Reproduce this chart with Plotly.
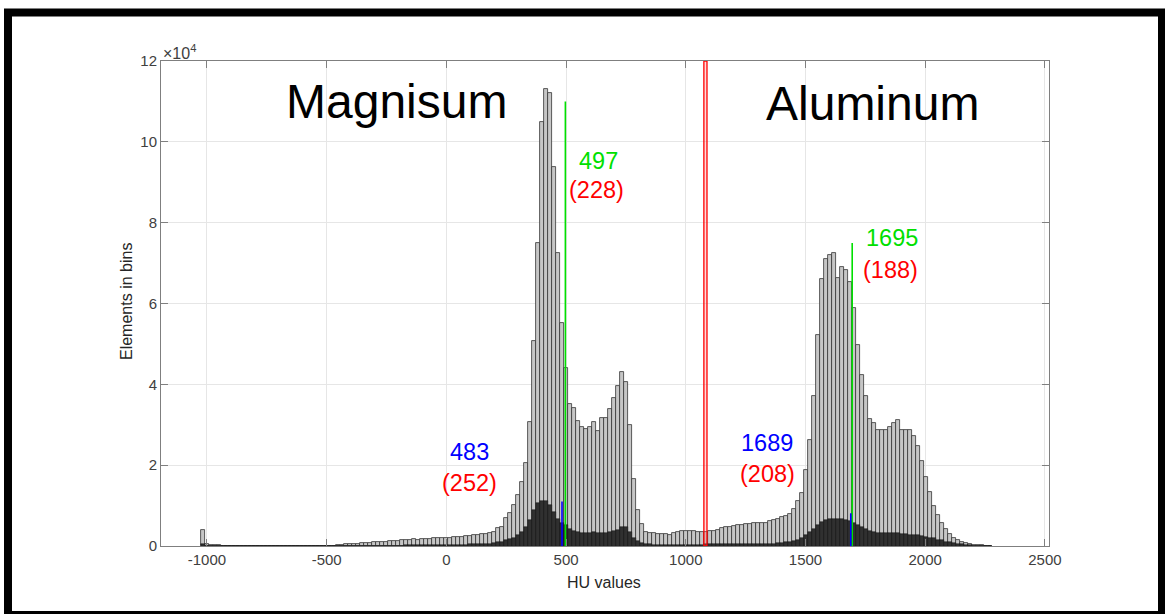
import plotly.graph_objects as go

# ---------------- data (counts in units of 10^4) ----------------
bin_start = -1027.0      # HU, left edge of first bin
bin_width = 16.7         # HU

total_counts_e4 = [
    0.40, 0.06, 0.03, 0.02, 0.02,
    0.01, 0.01, 0.01, 0.01, 0.01,
    0.01, 0.01, 0.01, 0.01, 0.01,
    0.01, 0.01, 0.01, 0.01, 0.01,
    0.00, 0.00, 0.01, 0.00, 0.01,
    0.01, 0.01, 0.00, 0.01, 0.01,
    0.01, 0.01, 0.01, 0.01, 0.02,
    0.03, 0.04, 0.05, 0.05, 0.06,
    0.07, 0.08, 0.08, 0.09, 0.10,
    0.10, 0.11, 0.12, 0.12, 0.13,
    0.14, 0.14, 0.15, 0.17, 0.16,
    0.17, 0.18, 0.18, 0.19, 0.20,
    0.20, 0.21, 0.21, 0.22, 0.22,
    0.23, 0.24, 0.25, 0.26, 0.27,
    0.29, 0.30, 0.31, 0.35, 0.45,
    0.48, 0.69, 0.81, 1.01, 1.26,
    1.59, 2.05, 3.08, 5.06, 7.49,
    10.5, 11.3, 11.2, 9.37, 7.26,
    5.53, 4.40, 3.51, 3.41, 3.09,
    2.94, 2.90, 2.94, 3.06, 2.85,
    3.16, 3.16, 3.38, 3.65, 3.96,
    4.30, 4.05, 3.00, 1.65, 0.89,
    0.54, 0.35, 0.33, 0.31, 0.30,
    0.30, 0.29, 0.27, 0.33, 0.35,
    0.36, 0.36, 0.36, 0.36, 0.35,
    0.34, 0.35, 0.37, 0.38, 0.40,
    0.44, 0.46, 0.48, 0.50, 0.51,
    0.53, 0.54, 0.55, 0.56, 0.56,
    0.57, 0.58, 0.61, 0.64, 0.68,
    0.71, 0.74, 0.80, 0.92, 1.12,
    1.32, 1.88, 2.62, 3.70, 5.22,
    6.60, 7.10, 7.20, 7.26, 6.63,
    6.91, 6.83, 6.54, 5.88, 4.98,
    4.23, 3.70, 3.14, 3.04, 2.87,
    2.88, 2.88, 2.95, 3.05, 3.12,
    2.87, 2.87, 2.86, 2.71, 2.48,
    2.11, 1.70, 1.33, 1.00, 0.76,
    0.58, 0.42, 0.29, 0.20, 0.14,
    0.10, 0.07, 0.05, 0.03, 0.03,
    0.02, 0.01, 0.01,
]

subset_counts_e4 = [
    0.05, 0.01, 0.01, 0.01, 0.01,
    0.01, 0.01, 0.01, 0.01, 0.01,
    0.00, 0.00, 0.00, 0.00, 0.00,
    0.00, 0.00, 0.00, 0.00, 0.00,
    0.00, 0.00, 0.00, 0.00, 0.00,
    0.00, 0.00, 0.00, 0.00, 0.00,
    0.00, 0.00, 0.00, 0.00, 0.01,
    0.01, 0.01, 0.01, 0.01, 0.01,
    0.01, 0.01, 0.01, 0.01, 0.01,
    0.01, 0.01, 0.01, 0.01, 0.01,
    0.01, 0.02, 0.02, 0.02, 0.02,
    0.02, 0.02, 0.02, 0.02, 0.02,
    0.02, 0.03, 0.03, 0.03, 0.03,
    0.03, 0.03, 0.04, 0.04, 0.04,
    0.04, 0.05, 0.06, 0.07, 0.09,
    0.11, 0.14, 0.17, 0.21, 0.27,
    0.35, 0.48, 0.64, 0.89, 1.07,
    1.12, 1.12, 1.01, 0.85, 0.66,
    0.58, 0.52, 0.41, 0.37, 0.34,
    0.33, 0.33, 0.33, 0.35, 0.31,
    0.33, 0.33, 0.34, 0.36, 0.40,
    0.46, 0.46, 0.35, 0.20, 0.12,
    0.08, 0.05, 0.04, 0.03, 0.03,
    0.03, 0.03, 0.03, 0.03, 0.03,
    0.03, 0.03, 0.03, 0.03, 0.03,
    0.03, 0.04, 0.04, 0.04, 0.04,
    0.04, 0.04, 0.04, 0.04, 0.04,
    0.04, 0.05, 0.05, 0.05, 0.05,
    0.05, 0.05, 0.05, 0.06, 0.07,
    0.08, 0.09, 0.10, 0.12, 0.16,
    0.20, 0.27, 0.34, 0.42, 0.52,
    0.60, 0.64, 0.67, 0.68, 0.67,
    0.66, 0.65, 0.63, 0.57, 0.52,
    0.47, 0.42, 0.38, 0.35, 0.33,
    0.32, 0.31, 0.31, 0.31, 0.31,
    0.30, 0.29, 0.28, 0.27, 0.26,
    0.25, 0.23, 0.21, 0.19, 0.16,
    0.14, 0.11, 0.09, 0.07, 0.05,
    0.04, 0.03, 0.02, 0.01, 0.01,
    0.00, 0.00, 0.00,
]

blue_hu = [483, 1689]
blue_top_e4 = [1.10, 0.81]
green_hu = [497, 1695]
green_top_e4 = [11.0, 7.5]
threshold_hu = 1082

blue_labels = ["483", "1689"]
blue_sub_labels = ["(252)", "(208)"]
green_labels = ["497", "1695"]
green_sub_labels = ["(228)", "(188)"]
region_labels = ["Magnisum", "Aluminum"]

x_ticks = [-1000, -500, 0, 500, 1000, 1500, 2000, 2500]
y_ticks = [0, 2, 4, 6, 8, 10, 12]

# ---------------- figure ----------------
centers_total = [bin_start + bin_width * (i + 0.5) for i in range(len(total_counts_e4))]
centers_sub = [bin_start + bin_width * (i + 0.5) for i in range(len(subset_counts_e4))]

FONT = "Liberation Sans, Arial, Helvetica, sans-serif"

fig = go.Figure()
fig.add_trace(go.Bar(
    x=centers_total, y=total_counts_e4, width=bin_width,
    marker=dict(color="#c6c6c6", line=dict(color="#333333", width=0.8)),
    showlegend=False, hoverinfo="skip"))
fig.add_trace(go.Bar(
    x=centers_sub, y=subset_counts_e4, width=bin_width,
    marker=dict(color="#303030", line=dict(color="#111111", width=0.5)),
    showlegend=False, hoverinfo="skip"))

for h, t in zip(green_hu, green_top_e4):
    fig.add_trace(go.Scatter(x=[h, h], y=[0, t], mode="lines",
                             line=dict(color="#00e000", width=1.6),
                             showlegend=False, hoverinfo="skip"))
for h, t in zip(blue_hu, blue_top_e4):
    fig.add_trace(go.Scatter(x=[h, h], y=[0, t], mode="lines",
                             line=dict(color="#0000ff", width=1.6),
                             showlegend=False, hoverinfo="skip"))

# threshold (double red line)
fig.add_shape(type="rect", xref="x", yref="y",
              x0=threshold_hu - 6.5, x1=threshold_hu + 6.5, y0=0, y1=12,
              line=dict(color="#ff0000", width=1.3),
              fillcolor="rgba(255,120,120,0.25)", layer="above")

# outer black frame
fig.add_shape(type="rect", xref="paper", yref="paper",
              x0=(8 - 161) / 888, x1=(1162 - 161) / 888,
              y0=(546 - 615) / 485, y1=(546 - 12.5) / 485,
              line=dict(color="black", width=8), fillcolor="rgba(0,0,0,0)")

ann = []
# region labels
ann.append(dict(x=-210, y=11.0, text=region_labels[0], showarrow=False,
                font=dict(size=48, color="black", family=FONT),
                xanchor="center", yanchor="middle"))
ann.append(dict(x=1779, y=10.95, text=region_labels[1], showarrow=False,
                font=dict(size=48, color="black", family=FONT),
                xanchor="center", yanchor="middle"))
# marker labels
label_pos = [
    (green_labels[0], 637, 9.53, "#00e000"),
    (green_sub_labels[0], 629, 8.81, "#ff0000"),
    (blue_labels[0], 96, 2.33, "#0000ff"),
    (blue_sub_labels[0], 96, 1.55, "#ff0000"),
    (blue_labels[1], 1339, 2.54, "#0000ff"),
    (blue_sub_labels[1], 1342, 1.78, "#ff0000"),
    (green_labels[1], 1862, 7.61, "#00e000"),
    (green_sub_labels[1], 1855, 6.83, "#ff0000"),
]
for txt, x, y, c in label_pos:
    ann.append(dict(x=x, y=y, text=txt, showarrow=False,
                    font=dict(size=23.5, color=c, family=FONT),
                    xanchor="center", yanchor="middle"))

# axis titles and exponent
ann.append(dict(x=(604 - 161) / 888, y=(546 - 582) / 485, xref="paper", yref="paper",
                text="HU values", showarrow=False,
                font=dict(size=16, color="#262626", family=FONT),
                xanchor="center", yanchor="middle"))
ann.append(dict(x=(126 - 161) / 888, y=(546 - 302) / 485, xref="paper", yref="paper",
                text="Elements in bins", showarrow=False, textangle=-90,
                font=dict(size=16, color="#262626", family=FONT),
                xanchor="center", yanchor="middle"))
ann.append(dict(x=0.0, y=(546 - 52) / 485, xref="paper", yref="paper",
                text="×10<sup>4</sup>", showarrow=False,
                font=dict(size=16, color="#404040", family=FONT),
                xanchor="left", yanchor="middle"))

fig.update_layout(
    width=1165, height=614,
    margin=dict(l=161, r=116, t=61, b=68),
    paper_bgcolor="white", plot_bgcolor="white",
    barmode="overlay", bargap=0,
    annotations=ann,
    font=dict(family=FONT, color="#404040"),
)
fig.update_xaxes(
    range=[-1192, 2517], tickvals=x_ticks, ticktext=[str(v) for v in x_ticks],
    showgrid=True, gridcolor="#e6e6e6", gridwidth=1, zeroline=False,
    showline=True, linecolor="#7f7f7f", linewidth=1, mirror="ticks",
    ticks="inside", ticklen=7, tickcolor="#7f7f7f",
    tickfont=dict(size=15, color="#404040", family=FONT))
fig.update_yaxes(
    range=[0, 12], tickvals=y_ticks, ticktext=[str(v) for v in y_ticks],
    showgrid=True, gridcolor="#e6e6e6", gridwidth=1, zeroline=False,
    showline=True, linecolor="#7f7f7f", linewidth=1, mirror="ticks",
    ticks="inside", ticklen=7, tickcolor="#7f7f7f",
    tickfont=dict(size=15, color="#404040", family=FONT))

fig.write_html("out.html")
